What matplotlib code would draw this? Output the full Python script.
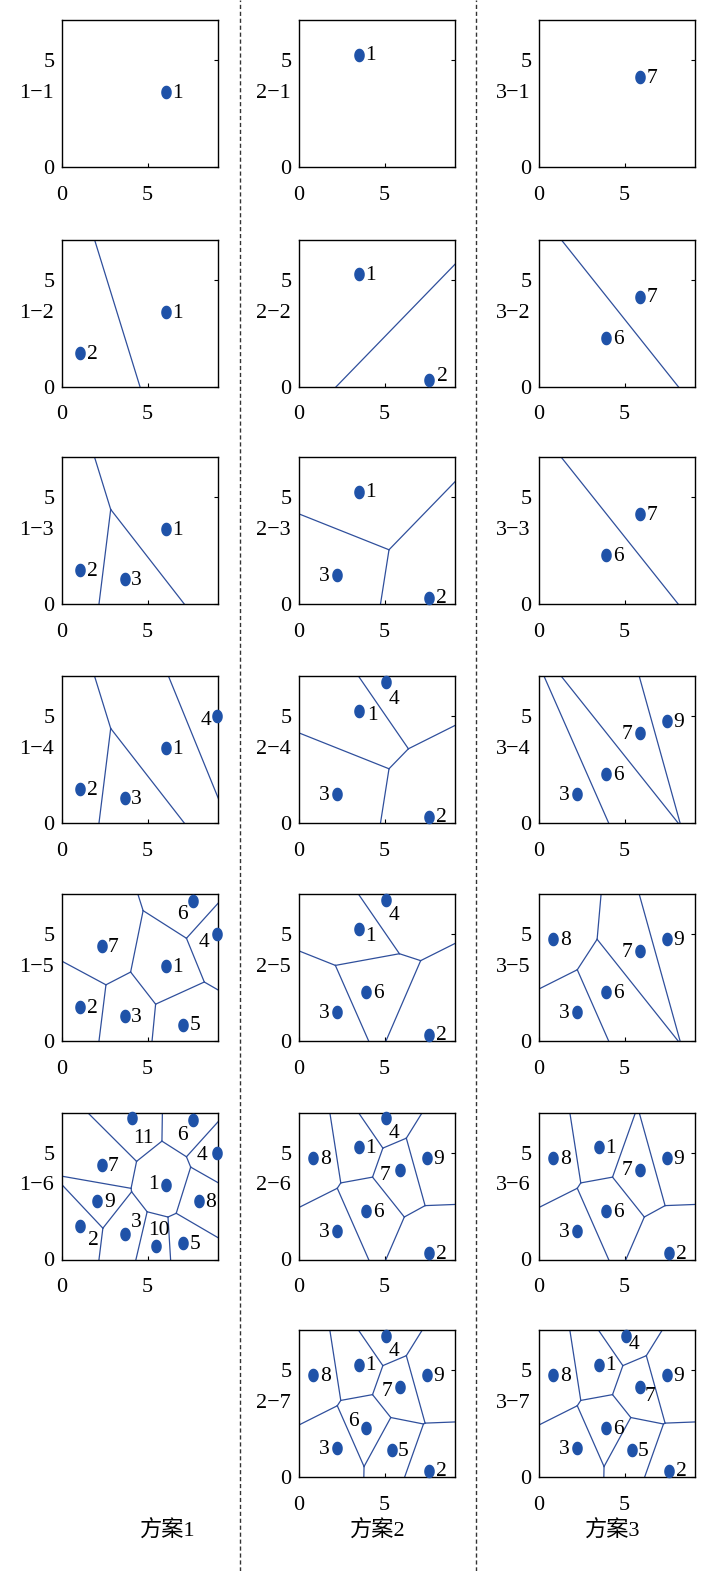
"""Voronoi partitions of the candidate sites for the three schemes."""

import numpy as np
import matplotlib.pyplot as plt
from matplotlib.lines import Line2D

plt.rcParams['font.family'] = ['Liberation Serif', 'Noto Sans CJK SC', 'DejaVu Sans']

###################################################################################################
###################################################################################################

# site coordinates (site number -> x, y)
SITES_1 = {1: (6.07, 3.50), 2: (1.07, 1.58), 3: (3.67, 1.18), 4: (9.03, 5.00),
           5: (7.07, 0.77), 6: (7.64, 6.56), 7: (2.31, 4.45), 8: (8.00, 2.75),
           9: (2.07, 2.75), 10: (5.49, 0.65), 11: (4.06, 6.63)}
SITES_2 = {1: (3.48, 5.28), 2: (7.61, 0.30), 3: (2.22, 1.35), 4: (5.06, 6.63),
           5: (5.41, 1.27), 6: (3.92, 2.28), 7: (5.88, 4.22), 8: (0.84, 4.77),
           9: (7.47, 4.77)}

# sites used in each step of each scheme
PANELS_1 = [[1], [1, 2], [1, 2, 3], [1, 2, 3, 4], [1, 2, 3, 4, 5, 6, 7],
            [1, 2, 3, 4, 5, 6, 7, 8, 9, 10, 11]]
PANELS_2 = [[1], [1, 2], [1, 2, 3], [1, 2, 3, 4], [1, 2, 3, 4, 6],
            [1, 2, 3, 4, 6, 7, 8, 9], [1, 2, 3, 4, 5, 6, 7, 8, 9]]
PANELS_3 = [[7], [6, 7], [6, 7], [3, 6, 7, 9], [3, 6, 7, 8, 9],
            [1, 2, 3, 6, 7, 8, 9], [1, 2, 3, 4, 5, 6, 7, 8, 9]]

SCHEMES = ['方案1', '方案2', '方案3']

# label offsets in points (default: to the right of the site)
RIGHT, LEFT = (8.5, -1), (-9, -1)
LABEL_OFF = {
    (0, 3, 4): (-8, -3), (0, 4, 4): (-9, -5.5), (0, 5, 4): (-11, -1.5),
    (0, 4, 6): (-7.7, -9.6), (0, 5, 6): (-7.7, -11), (0, 5, 11): (8.5, -14.4),
    (0, 5, 10): (2, 10.8), (0, 5, 3): (8, 8.4), (0, 5, 2): (9.6, -10.8),
    (0, 5, 1): (-9, 0),
    (1, 3, 4): (6, -12.5), (1, 4, 4): (6, -11), (1, 5, 4): (6, -11), (1, 6, 4): (6, -11.5),
    (1, 3, 1): (10, -3.6), (1, 4, 1): (8.6, -6), (1, 1, 2): (9, 2.4),
    (1, 6, 6): (-9, 5), (1, 5, 7): (-11, -4), (1, 6, 7): (-9, -3),
    (2, 3, 7): LEFT, (2, 4, 7): LEFT, (2, 5, 7): LEFT, (2, 6, 7): (7, -6.5),
    (2, 6, 4): (6, -6),
}
LEFT_SITES = {1: [], 2: [3], 3: [3]}

XMAX, YMAX = 9.1, 6.9
DOT = '#1f52a8'
EDGE = '#2f4f9c'

###################################################################################################
###################################################################################################

def clip(poly, n, c):
    """Keep the part of a convex polygon with n.x <= c."""
    out = []
    for k in range(len(poly)):
        a, b = poly[k], poly[(k + 1) % len(poly)]
        da, db = n @ a - c, n @ b - c
        if da <= 0:
            out.append(a)
        if da * db < 0:
            out.append(a + da / (da - db) * (b - a))
    return np.array(out)


def voronoi_edges(pts):
    lo, hi = np.array([-3.0, -3.0]), np.array([12.0, 10.0])
    box = np.array([[lo[0], lo[1]], [hi[0], lo[1]], [hi[0], hi[1]], [lo[0], hi[1]]])
    edges = {}
    for i, p in enumerate(pts):
        poly = box
        for j, q in enumerate(pts):
            if i != j:
                poly = clip(poly, q - p, (q - p) @ (p + q) / 2)
        for k in range(len(poly)):
            a, b = poly[k], poly[(k + 1) % len(poly)]
            on_box = any(abs(a[d] - v) < 1e-9 and abs(b[d] - v) < 1e-9
                         for d in range(2) for v in (lo[d], hi[d]))
            if not on_box:
                key = tuple(sorted([tuple(np.round(a, 6)), tuple(np.round(b, 6))]))
                edges[key] = (a, b)
    return list(edges.values())


def plot_panel(ax, sites, ids, col, row):
    pts = np.array([sites[i] for i in ids])
    for a, b in voronoi_edges(pts):
        ax.plot([a[0], b[0]], [a[1], b[1]], color=EDGE, lw=0.9)
    t = np.linspace(0, 2 * np.pi, 40)
    ell = np.column_stack([0.75 * np.cos(t), np.sin(t)])
    ax.plot(pts[:, 0], pts[:, 1], ls='none', marker=ell, ms=8.8, color=DOT,
            clip_on=False, zorder=3)
    for i, (x, y) in zip(ids, pts):
        off = LABEL_OFF.get((col, row, i), LEFT if i in LEFT_SITES[col + 1] else RIGHT)
        ax.annotate(str(i), (x, y), xytext=off, textcoords='offset points',
                    ha='center', va='center', fontsize=15.5, annotation_clip=False)

    ax.set_xlim(0, XMAX)
    ax.set_ylim(0, YMAX)
    ax.set_xticks([0, 5])
    ax.set_yticks([0, 5])
    ax.tick_params(axis='x', direction='in', length=3, pad=13.5, labelsize=16,
                   bottom=True, top=False)
    ax.tick_params(axis='y', direction='in', length=3, pad=5.5, labelsize=16,
                   left=False, right=True, labelleft=True, labelright=False)
    for s in ax.spines.values():
        s.set_linewidth(1.0)
    ax.text(-0.055, 0.5, f'{col + 1}\u2212{row + 1}', transform=ax.transAxes,
            ha='right', va='center', fontsize=16)


def main():

    W, H = 712, 1571
    fig = plt.figure(figsize=(W / 100, H / 100), dpi=100)

    lefts = [62, 299, 539]
    tops = [20, 239.5, 457, 676, 894, 1112.5, 1330]
    aw, ah = 156, 147

    columns = [(SITES_1, PANELS_1), (SITES_2, PANELS_2), (SITES_2, PANELS_3)]
    for col, (sites, panels) in enumerate(columns):
        for row, ids in enumerate(panels):
            ax = fig.add_axes([lefts[col] / W, 1 - (tops[row] + ah) / H, aw / W, ah / H])
            plot_panel(ax, sites, ids, col, row)

    for xs in [240, 476]:
        fig.add_artist(Line2D([xs / W, xs / W], [0, 1], color='#333333', lw=1.0,
                              ls=(0, (3, 2))))

    for x, name in zip([168, 378, 613], SCHEMES):
        fig.text(x / W, 1 - 1531 / H, name, ha='center', va='center', fontsize=16)

    plt.savefig('out.png', dpi=100)


if __name__ == "__main__":
    main()
